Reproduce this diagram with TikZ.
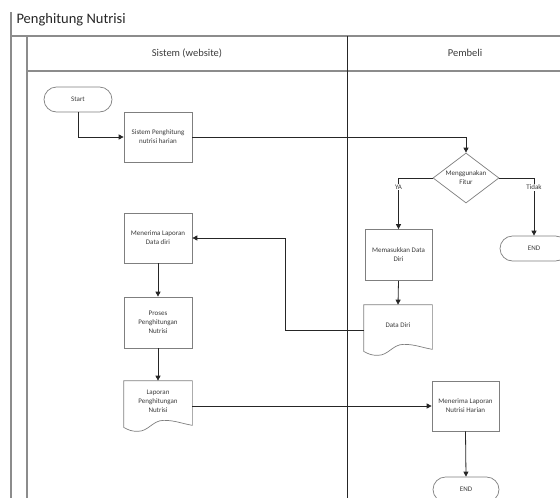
\documentclass[tikz,border=0pt]{standalone}
\usepackage{fontspec}
\setmainfont{Carlito}
\usetikzlibrary{arrows.meta,shapes.geometric}
\definecolor{laneline}{HTML}{8C8C8C}
\definecolor{boxline}{HTML}{7F7F7F}
\definecolor{inkdark}{HTML}{262626}
\definecolor{txt}{HTML}{3A3A3A}

% outline of a document symbol (flat top, wavy bottom) around a named node
\newcommand\docoutline[1]{%
  \draw[draw=boxline, line width=0.7pt]
    (#1.north west) -- (#1.north east) -- ([yshift=6pt]#1.south east)
    to[out=170,in=0] ([xshift=40pt,yshift=11pt]#1.south west)
    to[out=180,in=0] ([xshift=14pt]#1.south west)
    to[out=180,in=-30] ([yshift=4pt]#1.south west) -- cycle;}

\begin{document}
\begin{tikzpicture}[x=1pt,y=-1pt,
  lane/.style={draw=laneline, line width=1.2pt},
  divider/.style={draw=inkdark, line width=0.8pt},
  box/.style={draw=boxline, line width=0.7pt, fill=white, minimum width=68pt,
    minimum height=50pt, inner sep=1pt, align=center,
    font=\fontsize{7}{9}\selectfont, text=txt},
  term/.style={box, rounded corners=12.5pt, minimum height=25pt},
  decision/.style={diamond, draw=boxline, line width=0.7pt, fill=white,
    minimum width=66pt, minimum height=50pt, inner sep=0pt},
  docbox/.style={box, draw=none, fill=none},
  doctext/.style={align=center, font=\fontsize{7}{9}\selectfont, text=txt, yshift=5pt, inner sep=0pt},
  flow/.style={draw=inkdark, line width=0.8pt, -{Triangle[length=5pt,width=5pt]}},
  flowlabel/.style={fill=white, inner sep=1pt, font=\fontsize{7}{8}\selectfont, text=txt},
  header/.style={font=\fontsize{10.5}{12}\selectfont, text=inkdark!90},
]
\path[use as bounding box, clip] (0,0) rectangle (560,498);

% pool frame and lanes
\draw[lane] (11,12) -- (11,498);
\draw[lane] (11,36) -- (560,36);
\draw[lane] (27,36) -- (27,498);
\draw[lane] (27,71) -- (560,71);
\draw[divider] (347,36) -- (347,498);

\node[anchor=west, font=\fontsize{14.5}{17}\selectfont, text=inkdark] (title) at (13,20) {Penghitung Nutrisi};
\node[header] (laneA) at (187,53) {Sistem (website)};
\node[header] (laneB) at (465,53) {Pembeli};

% flow elements
\node[term] (start) at (78,99.5) {Start};
\node[box] (sys) at (158,137) {Sistem Penghitung\\nutrisi harian};
\node[decision, label={[align=center, font=\fontsize{7}{9}\selectfont, text=txt]center:Menggunakan\\Fitur}] (dec) at (466,178) {};
\node[box, minimum width=67pt, minimum height=51pt] (inp) at (398.5,255) {Memasukkan Data\\Diri};
\node[term] (endR) at (534,248.5) {END};
\node[docbox, label={[doctext]center:Data Diri}] (dd) at (398,330) {};
\node[box] (rcv) at (158,238) {Menerima Laporan\\Data diri};
\node[box, minimum height=51pt] (proc) at (158,322.5) {Proses\\Penghitungan\\Nutrisi};
\node[docbox, label={[doctext]center:Laporan\\Penghitungan\\Nutrisi}] (rep) at (158,406) {};
\node[box, minimum width=67pt] (harian) at (465.5,406) {Menerima Laporan\\Nutrisi Harian};
\node[term, minimum width=66pt] (endB) at (466,489.5) {END};

\docoutline{dd}
\docoutline{rep}

% connectors
\coordinate (ret) at (285,330);
\draw[flow] (start.south) |- (sys.west);
\draw[flow] (sys.east) -| (dec.north);
\draw[flow] (dec.west) -| node[flowlabel, pos=0.59] {YA} (inp.north);
\draw[flow] (dec.east) -| node[flowlabel, pos=0.58] {Tidak} (endR.north);
\draw[flow] (inp.south) -- (dd.north);
\draw[flow] (dd.west) -- (ret) |- (rcv.east);
\draw[flow] (rcv.south) -- (proc.north);
\draw[flow] (proc.south) -- (rep.north);
\draw[flow] (rep.east) -- (harian.west);
\draw[flow] (harian.south) -- (endB.north);
\end{tikzpicture}
\end{document}
